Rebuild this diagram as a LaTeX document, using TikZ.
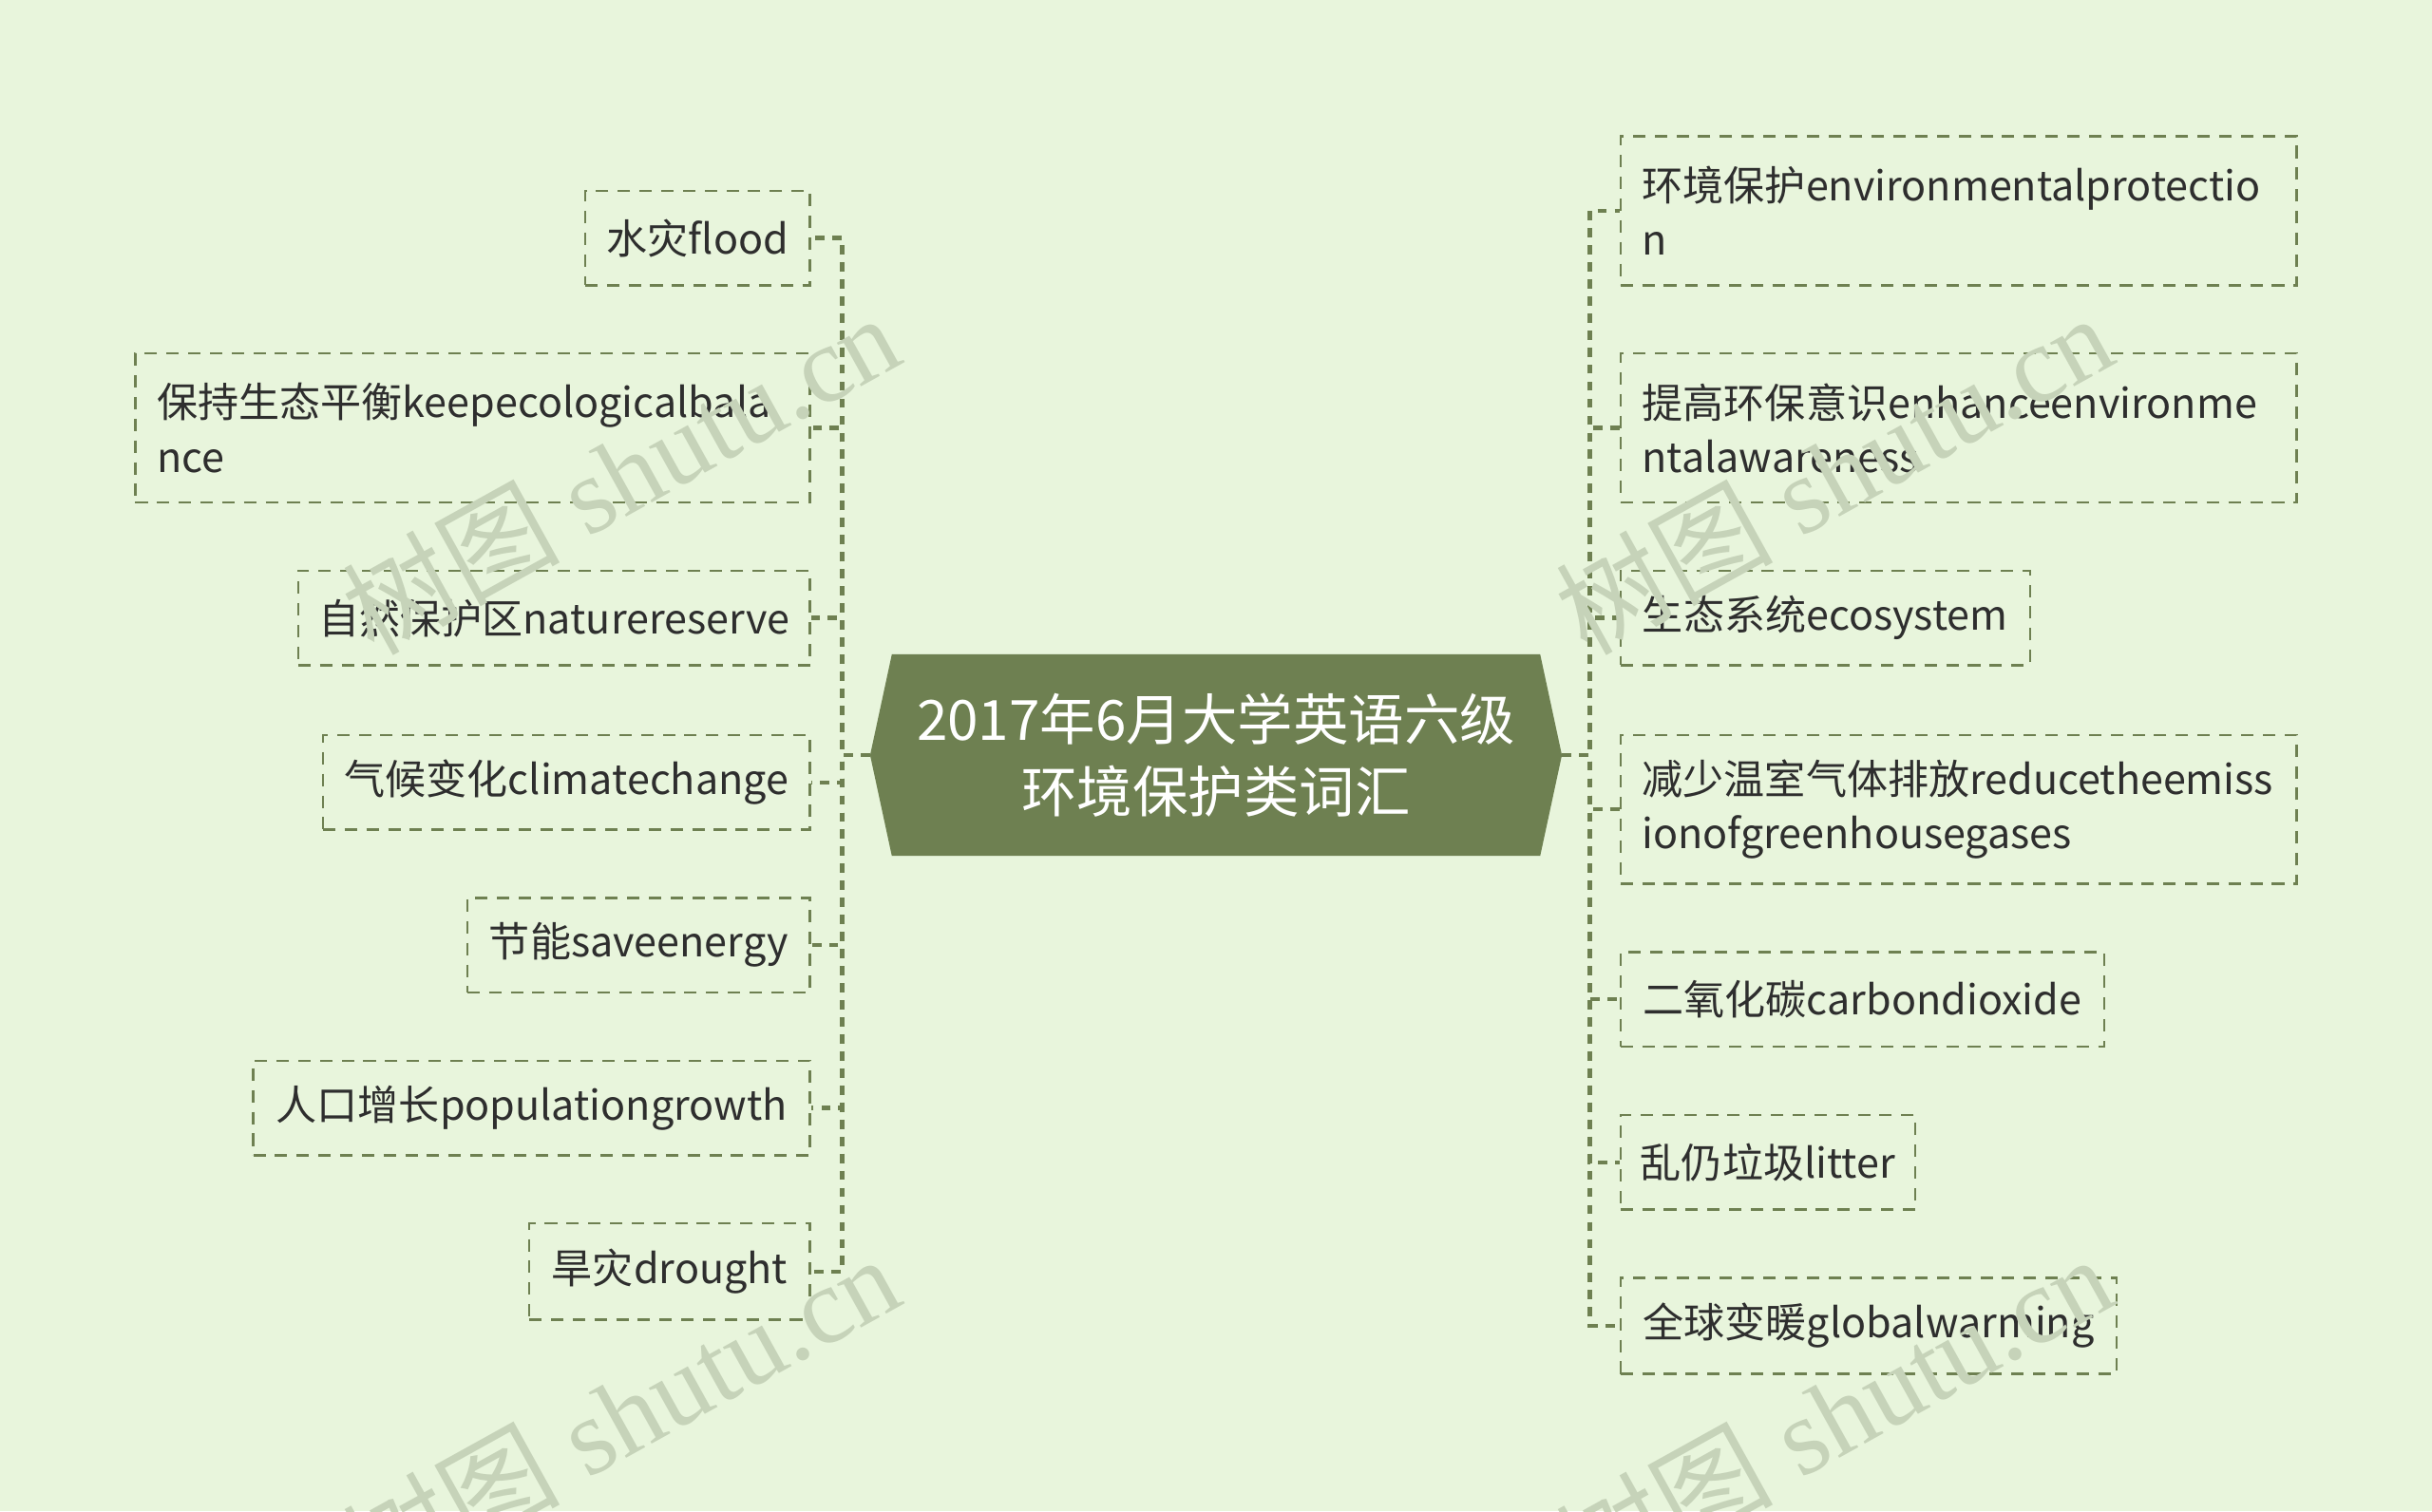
\documentclass[tikz,border=0pt]{standalone}
\usepackage{fontspec}
\setmainfont{Noto Sans CJK SC}
\newfontfamily\wmfont{Liberation Serif}
\newfontfamily\wmcjk{Noto Sans CJK SC}
\definecolor{bgc}{HTML}{E8F5DC}
\definecolor{olive}{HTML}{6E8051}
\definecolor{txt}{HTML}{2E2E2E}
\definecolor{wmc}{HTML}{C6D3B9}
\begin{document}
\begin{tikzpicture}[x=0.5pt,y=-0.5pt,
  leaf/.style={draw=olive, line width=0.75pt, dash pattern=on 4pt off 3pt,
    inner sep=0pt, text=txt, font=\fontsize{13.2pt}{17.5pt}\selectfont,
    minimum height=30.5pt},
  wrapleaf/.style={leaf, align=left, inner xsep=7pt, text width=204pt, minimum height=48pt},
  conn/.style={draw=olive, line width=1.3pt, dash pattern=on 3pt off 2.5pt},
  wm/.style={text=wmc, font=\wmfont\fontsize{35pt}{35pt}\selectfont, rotate=29, inner sep=0pt}
]
\useasboundingbox (0,0) rectangle (1568,974.5);
\fill[bgc] (0,0) rectangle (1568,974.5);

% root
\fill[olive] (575,422) -- (993,422) -- (1007,487) -- (993,552) -- (575,552) -- (561,487) -- cycle;
\node[text=white, align=center, font=\fontsize{17.9pt}{23.5pt}\selectfont] (root) at (784,487)
  {2017年6月大学英语六级\\环境保护类词汇};
\coordinate (rootL) at (561,487);
\coordinate (rootR) at (1007,487);

% left leaves
\node[leaf, anchor=east, minimum width=72.5pt] (l1) at (523,153.5) {水灾flood};
\node[wrapleaf, anchor=east, text width=203.5pt] (l2) at (523,276) {保持生态平衡keepecologicalbala\\nce};
\node[leaf, anchor=east, minimum width=165pt] (l3) at (523,398.5) {自然保护区naturereserve};
\node[leaf, anchor=east, minimum width=157pt] (l4) at (523,504.5) {气候变化climatechange};
\node[leaf, anchor=east, minimum width=110.5pt] (l5) at (523,609.5) {节能saveenergy};
\node[leaf, anchor=east, minimum width=179.5pt] (l6) at (523,714.5) {人口增长populationgrowth};
\node[leaf, anchor=east, minimum width=90.5pt, minimum height=31pt] (l7) at (523,820) {旱灾drought};

% right leaves
\node[wrapleaf, anchor=west] (r1) at (1044,136) {环境保护environmentalprotectio\\n};
\node[wrapleaf, anchor=west] (r2) at (1044,276) {提高环保意识enhanceenvironme\\ntalawareness};
\node[leaf, anchor=west, minimum width=132pt] (r3) at (1044,398.5) {生态系统ecosystem};
\node[wrapleaf, anchor=west] (r4) at (1044,522) {减少温室气体排放reducetheemiss\\ionofgreenhousegases};
\node[leaf, anchor=west, minimum width=156pt] (r5) at (1044,644.5) {二氧化碳carbondioxide};
\node[leaf, anchor=west, minimum width=95pt] (r6) at (1044,749.5) {乱仍垃圾litter};
\node[leaf, anchor=west, minimum width=160pt, minimum height=31pt] (r7) at (1044,855) {全球变暖globalwarming};

% connectors
\foreach \n in {l1,l2,l3,l4,l5,l6,l7}
  \draw[conn] (rootL) -- ++(-18,0) |- (\n.east);
\foreach \n in {r1,r2,r3,r4,r5,r6,r7}
  \draw[conn] (rootR) -- ++(18,0) |- (\n.west);

% watermarks
\node[wm] (wm1) at (400,305) {{\wmcjk 树图} shutu.cn};
\node[wm] (wm2) at (1182,305) {{\wmcjk 树图} shutu.cn};
\node[wm] (wm3) at (400,912) {{\wmcjk 树图} shutu.cn};
\node[wm] (wm4) at (1182,912) {{\wmcjk 树图} shutu.cn};
\end{tikzpicture}
\end{document}
